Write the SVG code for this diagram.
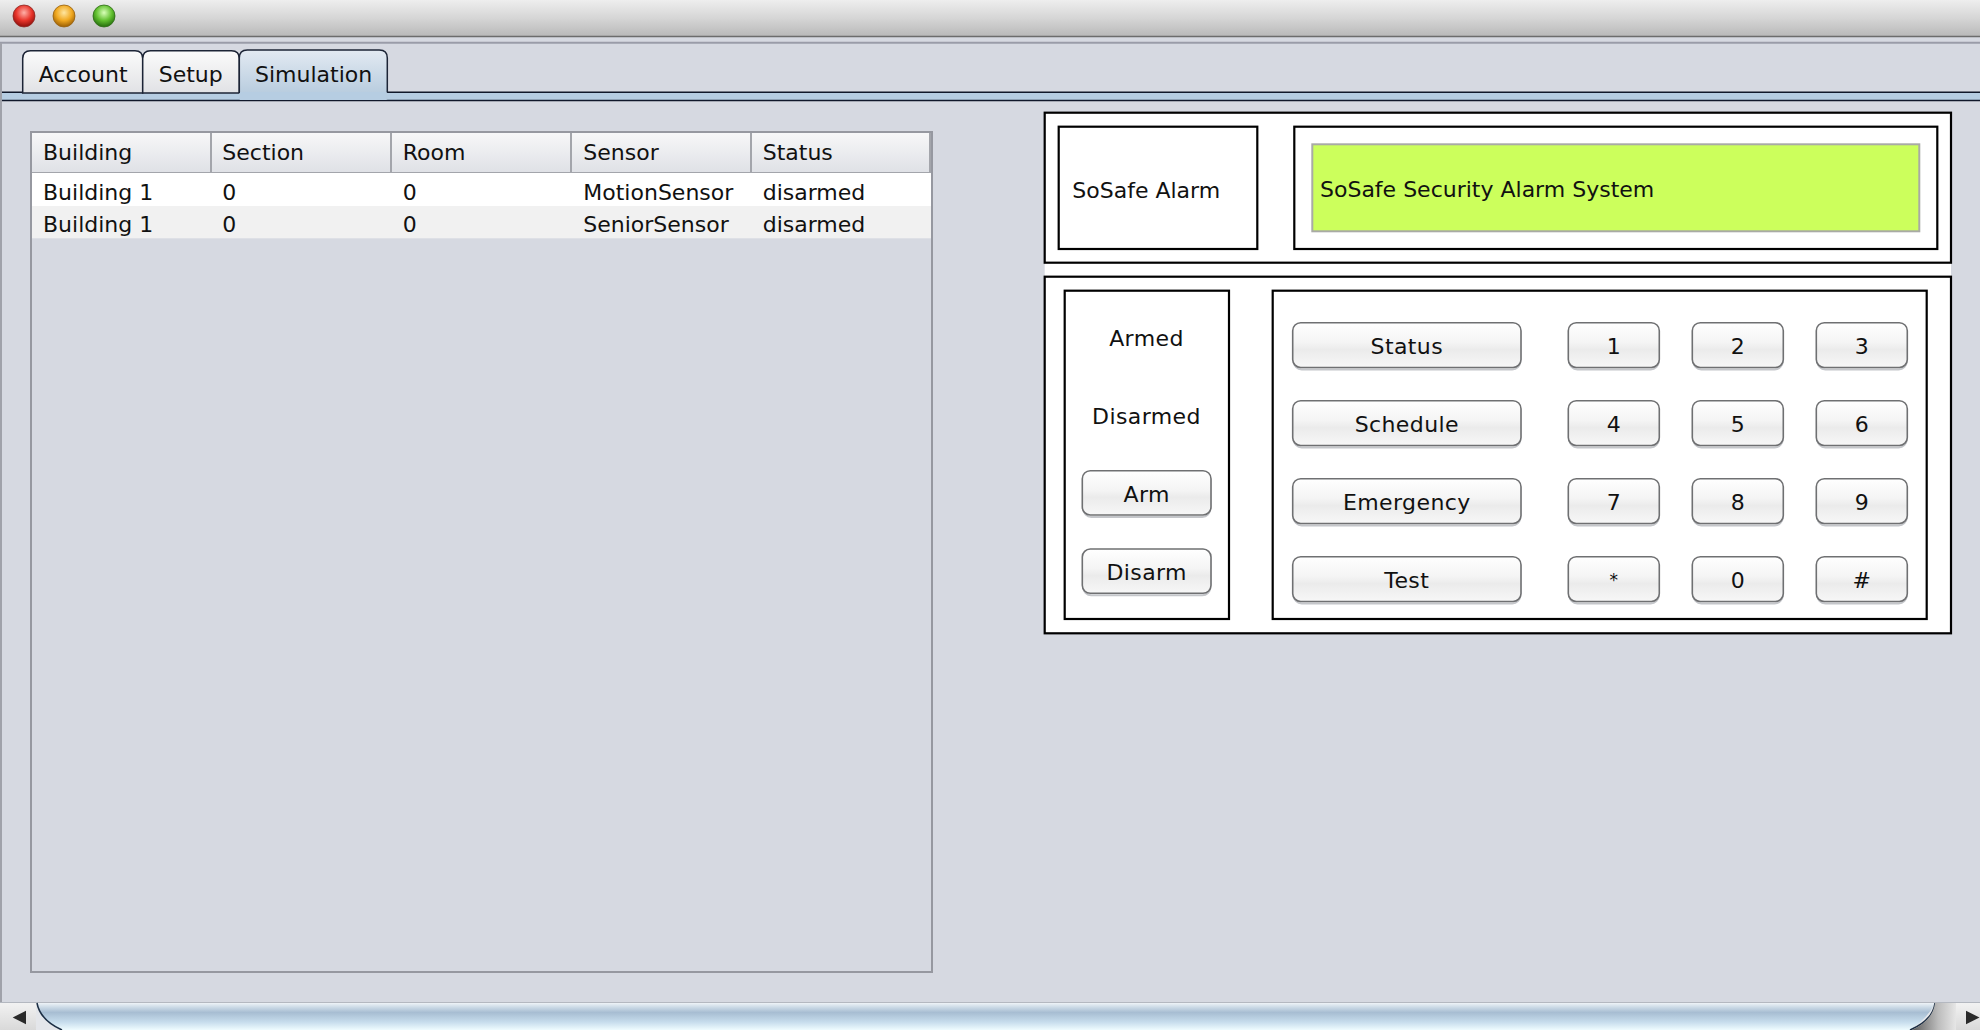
<svg xmlns="http://www.w3.org/2000/svg" width="1980" height="1030" viewBox="0 0 1980 1030">
<defs>
<linearGradient id="gTitle" x1="0" y1="0" x2="0" y2="1"><stop offset="0" stop-color="#eeeeee"/><stop offset="0.5" stop-color="#d6d6d6"/><stop offset="1" stop-color="#b9b9b9"/></linearGradient>
<linearGradient id="gTab" x1="0" y1="0" x2="0" y2="1"><stop offset="0" stop-color="#fbfbfb"/><stop offset="1" stop-color="#e1e2e5"/></linearGradient>
<linearGradient id="gTabSel" x1="0" y1="0" x2="0" y2="1"><stop offset="0" stop-color="#e3eaf2"/><stop offset="1" stop-color="#b2c8dc"/></linearGradient>
<linearGradient id="gHead" x1="0" y1="0" x2="0" y2="1"><stop offset="0" stop-color="#f7f7f8"/><stop offset="1" stop-color="#dfe1e6"/></linearGradient>
<linearGradient id="gBtn" x1="0" y1="0" x2="0" y2="1"><stop offset="0" stop-color="#ffffff"/><stop offset="0.45" stop-color="#f4f4f4"/><stop offset="0.6" stop-color="#ebebeb"/><stop offset="1" stop-color="#f7f7f7"/></linearGradient>
<linearGradient id="gThumb" x1="0" y1="0" x2="0" y2="1"><stop offset="0" stop-color="#eef3f7"/><stop offset="0.15" stop-color="#cddbe7"/><stop offset="0.35" stop-color="#a7bdd2"/><stop offset="0.7" stop-color="#c6dcec"/><stop offset="1" stop-color="#effcff"/></linearGradient>
<linearGradient id="gArrowBtn" x1="0" y1="0" x2="0" y2="1"><stop offset="0" stop-color="#f2f2f2"/><stop offset="1" stop-color="#d9d9d9"/></linearGradient>
<linearGradient id="gCap" x1="0" y1="0" x2="1" y2="0"><stop offset="0" stop-color="#5a5a5a"/><stop offset="0.6" stop-color="#bdbdbd"/><stop offset="1" stop-color="#e6e6e6"/></linearGradient>
<radialGradient id="gRed" cx="0.5" cy="0.35" r="0.6"><stop offset="0" stop-color="#ffb0a8"/><stop offset="0.6" stop-color="#e8342a"/><stop offset="1" stop-color="#9c1510"/></radialGradient>
<radialGradient id="gOrange" cx="0.5" cy="0.35" r="0.6"><stop offset="0" stop-color="#ffe6a0"/><stop offset="0.6" stop-color="#f0a820"/><stop offset="1" stop-color="#a86a08"/></radialGradient>
<radialGradient id="gGreen" cx="0.5" cy="0.35" r="0.6"><stop offset="0" stop-color="#d8ffb8"/><stop offset="0.6" stop-color="#62c030"/><stop offset="1" stop-color="#2e7a12"/></radialGradient>
</defs>
<style>
text{font-family:"DejaVu Sans","Liberation Sans",sans-serif;fill:#111;}
.t22{font-size:22px;}
.lbl{font-size:22px;letter-spacing:0.4px;}
.tbl{font-size:22px;}
.mid{text-anchor:middle;}
.box{fill:none;stroke:#000;stroke-width:2.2;}
.btn{fill:url(#gBtn);stroke:#6f7072;stroke-width:1.6;}
.shadow{fill:none;stroke:#c4c6ca;stroke-width:2;}
.sep{stroke:#a3a5ab;stroke-width:2;}
</style>

<!-- window background -->
<rect x="0" y="0" width="1980" height="1030" fill="#d6d9e1"/>

<!-- title bar -->
<g id="titlebar">
<rect x="0" y="0" width="1980" height="36" fill="url(#gTitle)"/>
<line x1="0" y1="36.5" x2="1980" y2="36.5" stroke="#6c6c6c" stroke-width="1.5"/>
<line x1="0" y1="42.7" x2="1980" y2="42.7" stroke="#9a9ca8" stroke-width="2"/>
<circle cx="24" cy="16" r="11" fill="url(#gRed)" stroke="#8a2a24" stroke-width="0.8"/>
<circle cx="64" cy="16" r="11" fill="url(#gOrange)" stroke="#946010" stroke-width="0.8"/>
<circle cx="104" cy="16" r="11" fill="url(#gGreen)" stroke="#2e6a18" stroke-width="0.8"/>
</g>

<!-- left window border -->
<rect x="0" y="43" width="2" height="960" fill="#a0a2aa"/>

<!-- tabs -->
<g id="tabs">
<line x1="2" y1="92.3" x2="1980" y2="92.3" stroke="#10182a" stroke-width="1.6"/>
<rect x="2" y="93" width="1978" height="7" fill="#b6cde2"/>
<line x1="2" y1="100.5" x2="1980" y2="100.5" stroke="#10182a" stroke-width="1.6"/>
<g id="tab-account">
<path d="M22.7,93 V58.5 Q22.7,50.7 30.5,50.7 H135 Q142.7,50.7 142.7,58.5 V93 Z" fill="url(#gTab)" stroke="#1c2436" stroke-width="1.5"/>
<text x="38.7" y="81.7" class="t22">Account</text>
</g>
<g id="tab-setup">
<path d="M142.7,93 V58.5 Q142.7,50.7 150.5,50.7 H231.5 Q239.3,50.7 239.3,58.5 V93 Z" fill="url(#gTab)" stroke="#1c2436" stroke-width="1.5"/>
<text x="158.7" y="81.7" class="t22">Setup</text>
</g>
<g id="tab-simulation">
<path d="M239.3,99.5 V58 Q239.3,50 247.3,50 H379.3 Q387.3,50 387.3,58 V99.5" fill="url(#gTabSel)" stroke="none"/>
<path d="M239.3,93 V58 Q239.3,50 247.3,50 H379.3 Q387.3,50 387.3,58 V93" fill="none" stroke="#1c2436" stroke-width="1.5"/>
<rect x="240" y="92" width="146.6" height="8" fill="#b6cde2"/>
<text x="255" y="81.7" class="t22">Simulation</text>
</g>
</g>

<!-- table -->
<g id="table">
<rect x="31" y="132" width="901" height="840" fill="#d6d9e1" stroke="#9698a0" stroke-width="2"/>
<rect x="32" y="133" width="899" height="39.5" fill="url(#gHead)"/>
<line x1="32" y1="172.5" x2="931" y2="172.5" stroke="#a3a5ab" stroke-width="1.2"/>
<line x1="211" y1="133" x2="211" y2="172" class="sep"/>
<line x1="391" y1="133" x2="391" y2="172" class="sep"/>
<line x1="571" y1="133" x2="571" y2="172" class="sep"/>
<line x1="751" y1="133" x2="751" y2="172" class="sep"/>
<line x1="930" y1="133" x2="930" y2="172" class="sep"/>
<rect x="32" y="173" width="899" height="33" fill="#ffffff"/>
<rect x="32" y="206" width="899" height="32.3" fill="#f1f1f1"/>
<g>
<text x="43" y="160" class="tbl">Building</text>
<text x="222.3" y="160" class="tbl">Section</text>
<text x="402.7" y="160" class="tbl">Room</text>
<text x="583.3" y="160" class="tbl">Sensor</text>
<text x="762.7" y="160" class="tbl">Status</text>
<text x="43" y="200" class="tbl">Building 1</text>
<text x="222.3" y="200" class="tbl">0</text>
<text x="402.7" y="200" class="tbl">0</text>
<text x="583.3" y="200" class="tbl">MotionSensor</text>
<text x="762.7" y="200" class="tbl">disarmed</text>
<text x="43" y="231.7" class="tbl">Building 1</text>
<text x="222.3" y="231.7" class="tbl">0</text>
<text x="402.7" y="231.7" class="tbl">0</text>
<text x="583.3" y="231.7" class="tbl">SeniorSensor</text>
<text x="762.7" y="231.7" class="tbl">disarmed</text>
</g>
</g>

<!-- alarm panel -->
<g id="alarm-panel">
<rect x="1044.7" y="112.7" width="906.3" height="520.6" fill="#ffffff"/>
<g id="header-panel">
<rect x="1044.7" y="112.7" width="906.3" height="150" class="box"/>
<g id="sosafe-label">
<rect x="1058.7" y="126.7" width="198.6" height="122.3" class="box"/>
<text x="1072.3" y="198.3" class="t22">SoSafe Alarm</text>
</g>
<g id="display">
<rect x="1294.3" y="126.7" width="643" height="122.3" class="box"/>
<rect x="1312.3" y="144.3" width="607" height="87" fill="#ccff5c" stroke="#a9aaa6" stroke-width="2"/>
<text x="1320" y="196.7" class="t22">SoSafe Security Alarm System</text>
</g>
</g>
<g id="control-panel">
<rect x="1044.7" y="276.7" width="906.3" height="356.6" class="box"/>
<g id="arm-box">
<rect x="1064.7" y="290.7" width="164.3" height="328.3" class="box"/>
<text x="1146.5" y="346" class="lbl mid">Armed</text>
<text x="1146.5" y="424.3" class="lbl mid">Disarmed</text>
<g id="btn-arm">
<rect x="1083.3" y="473" width="127" height="44" rx="8" class="shadow"/>
<rect x="1082.3" y="470.7" width="128.7" height="44.3" rx="8" class="btn"/>
<text x="1146.7" y="502.3" class="lbl mid">Arm</text>
</g>
<g id="btn-disarm">
<rect x="1083.3" y="551.3" width="127" height="44" rx="8" class="shadow"/>
<rect x="1082.3" y="549" width="128.7" height="44.3" rx="8" class="btn"/>
<text x="1146.7" y="580" class="lbl mid">Disarm</text>
</g>
</g>
<g id="keypad">
<rect x="1272.7" y="290.7" width="654" height="328.3" class="box"/>
<g id="btn-status">
<rect x="1293.7" y="325" width="226.6" height="44.5" rx="8" class="shadow"/>
<rect x="1292.7" y="322.7" width="228.3" height="44.8" rx="8" class="btn"/>
<text x="1406.8" y="354" class="lbl mid">Status</text>
</g>
<g id="btn-schedule">
<rect x="1293.7" y="403" width="226.6" height="44.5" rx="8" class="shadow"/>
<rect x="1292.7" y="400.7" width="228.3" height="44.8" rx="8" class="btn"/>
<text x="1406.8" y="432" class="lbl mid">Schedule</text>
</g>
<g id="btn-emergency">
<rect x="1293.7" y="481" width="226.6" height="44.5" rx="8" class="shadow"/>
<rect x="1292.7" y="478.7" width="228.3" height="44.8" rx="8" class="btn"/>
<text x="1406.8" y="510" class="lbl mid">Emergency</text>
</g>
<g id="btn-test">
<rect x="1293.7" y="559" width="226.6" height="44.5" rx="8" class="shadow"/>
<rect x="1292.7" y="556.7" width="228.3" height="44.8" rx="8" class="btn"/>
<text x="1406.8" y="588" class="lbl mid">Test</text>
</g>
<g id="key-1"><rect x="1569.3" y="325" width="89.4" height="44.5" rx="8" class="shadow"/><rect x="1568.3" y="322.7" width="91" height="44.8" rx="8" class="btn"/><text x="1613.8" y="354" class="t22 mid">1</text></g>
<g id="key-2"><rect x="1693.3" y="325" width="89.4" height="44.5" rx="8" class="shadow"/><rect x="1692.3" y="322.7" width="91" height="44.8" rx="8" class="btn"/><text x="1737.8" y="354" class="t22 mid">2</text></g>
<g id="key-3"><rect x="1817.3" y="325" width="89.4" height="44.5" rx="8" class="shadow"/><rect x="1816.3" y="322.7" width="91" height="44.8" rx="8" class="btn"/><text x="1861.8" y="354" class="t22 mid">3</text></g>
<g id="key-4"><rect x="1569.3" y="403" width="89.4" height="44.5" rx="8" class="shadow"/><rect x="1568.3" y="400.7" width="91" height="44.8" rx="8" class="btn"/><text x="1613.8" y="432" class="t22 mid">4</text></g>
<g id="key-5"><rect x="1693.3" y="403" width="89.4" height="44.5" rx="8" class="shadow"/><rect x="1692.3" y="400.7" width="91" height="44.8" rx="8" class="btn"/><text x="1737.8" y="432" class="t22 mid">5</text></g>
<g id="key-6"><rect x="1817.3" y="403" width="89.4" height="44.5" rx="8" class="shadow"/><rect x="1816.3" y="400.7" width="91" height="44.8" rx="8" class="btn"/><text x="1861.8" y="432" class="t22 mid">6</text></g>
<g id="key-7"><rect x="1569.3" y="481" width="89.4" height="44.5" rx="8" class="shadow"/><rect x="1568.3" y="478.7" width="91" height="44.8" rx="8" class="btn"/><text x="1613.8" y="510" class="t22 mid">7</text></g>
<g id="key-8"><rect x="1693.3" y="481" width="89.4" height="44.5" rx="8" class="shadow"/><rect x="1692.3" y="478.7" width="91" height="44.8" rx="8" class="btn"/><text x="1737.8" y="510" class="t22 mid">8</text></g>
<g id="key-9"><rect x="1817.3" y="481" width="89.4" height="44.5" rx="8" class="shadow"/><rect x="1816.3" y="478.7" width="91" height="44.8" rx="8" class="btn"/><text x="1861.8" y="510" class="t22 mid">9</text></g>
<g id="key-star"><rect x="1569.3" y="559" width="89.4" height="44.5" rx="8" class="shadow"/><rect x="1568.3" y="556.7" width="91" height="44.8" rx="8" class="btn"/><text x="1613.8" y="586" class="t22 mid" style="font-size:17px">*</text></g>
<g id="key-0"><rect x="1693.3" y="559" width="89.4" height="44.5" rx="8" class="shadow"/><rect x="1692.3" y="556.7" width="91" height="44.8" rx="8" class="btn"/><text x="1737.8" y="588" class="t22 mid">0</text></g>
<g id="key-hash"><rect x="1817.3" y="559" width="89.4" height="44.5" rx="8" class="shadow"/><rect x="1816.3" y="556.7" width="91" height="44.8" rx="8" class="btn"/><text x="1861.8" y="588" class="t22 mid">#</text></g>
</g>
</g>
</g>

<!-- horizontal scrollbar -->
<g id="scrollbar">
<rect x="0" y="1002" width="1980" height="28" fill="#e4e6ea"/>
<line x1="0" y1="1002.5" x2="1980" y2="1002.5" stroke="#b4b8c0" stroke-width="1.2"/>
<rect x="0" y="1003" width="36" height="27" fill="url(#gArrowBtn)"/>
<polygon points="12.7,1017.5 26,1010.7 26,1024.3" fill="#2a2a2a"/>
<path d="M37,1003 H1935 Q1928,1018 1910,1030 H62 Q40,1020 37,1003 Z" fill="url(#gThumb)"/>
<path d="M37,1003 Q40,1020 62,1030" fill="none" stroke="#1c2e44" stroke-width="1.5"/>
<path d="M1935,1003 Q1933,1020 1910,1030" fill="none" stroke="#1c2e44" stroke-width="1.5"/>
<path d="M1935,1003 H1956 V1030 H1912 Q1933,1020 1935,1003 Z" fill="url(#gCap)"/>
<rect x="1956" y="1003" width="24" height="27" fill="url(#gArrowBtn)"/>
<polygon points="1966,1010.7 1966,1024.3 1979.5,1017.5" fill="#2a2a2a"/>
</g>
</svg>
